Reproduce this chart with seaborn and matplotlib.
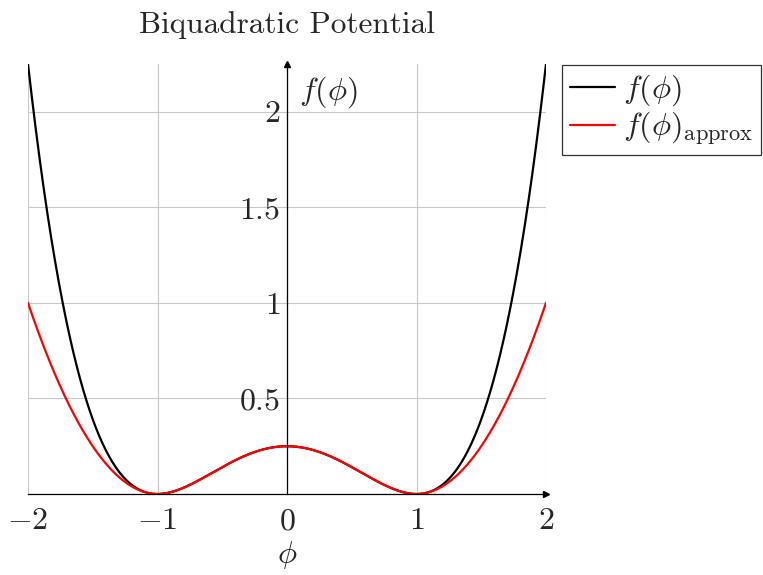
import numpy as np
import pandas as pd
import matplotlib
matplotlib.use("Agg")
import matplotlib.pyplot as plt
import seaborn as sns

# Biquadratic potential f(phi) = (phi^2 - 1)^2 / 4 and its harmonic approximation
phi_min, phi_max = -2.0, 2.0
x_ticks = [-2, -1, 0, 1, 2]
y_ticks = [0.5, 1.0, 1.5, 2.0]
y_tick_labels = ["0.5", "1", "1.5", "2"]
y_max = 2.25
series_names = [r"$f(\phi)$", r"$f(\phi)_{\mathrm{approx}}$"]
series_colors = ["black", "red"]

phi = np.linspace(phi_min, phi_max, 801)
f_exact = (phi ** 2 - 1) ** 2 / 4
# between the minima the exact curve, outside a quadratic about each minimum
f_approx = np.where(np.abs(phi) <= 1, f_exact, (np.abs(phi) - 1) ** 2)

df = pd.DataFrame({
    "phi": np.concatenate([phi, phi]),
    "f": np.concatenate([f_exact, f_approx]),
    "series": [series_names[0]] * len(phi) + [series_names[1]] * len(phi),
})

sns.set_style("white")
plt.rcParams["mathtext.fontset"] = "cm"
plt.rcParams["font.family"] = ["cmr10", "DejaVu Serif"]
plt.rcParams["axes.formatter.use_mathtext"] = True

FS = 23
W, H = 763, 575
fig = plt.figure(figsize=(W / 100, H / 100), dpi=100)
x0, x1 = 28, 546
y0, y1 = 494, 64
ax = fig.add_axes([x0 / W, 1 - y0 / H, (x1 - x0) / W, (y0 - y1) / H])

sns.lineplot(data=df, x="phi", y="f", hue="series", palette=series_colors,
             hue_order=series_names, linewidth=1.6, ax=ax, legend=False)

ax.set_xlim(phi_min, phi_max)
ax.set_ylim(0, y_max)

# axis lines through the origin, with arrow heads
for side in ["top", "right"]:
    ax.spines[side].set_visible(False)
ax.spines["left"].set_position(("data", 0))
ax.spines["bottom"].set_position(("data", 0))
for side in ["left", "bottom"]:
    ax.spines[side].set_color("black")
    ax.spines[side].set_linewidth(0.9)
ax.plot(1, 0, marker=">", color="black", markersize=4.5,
        transform=ax.get_yaxis_transform(), clip_on=False)
ax.plot(0, 1, marker="^", color="black", markersize=4.5,
        transform=ax.get_xaxis_transform(), clip_on=False)

ax.set_xticks(x_ticks)
ax.set_xticklabels([f"${t}$" if t >= 0 else f"$-{abs(t)}$" for t in x_ticks])
ax.set_yticks(y_ticks)
ax.set_yticklabels([f"${t}$" for t in y_tick_labels])
ax.tick_params(axis="both", direction="inout", length=6, width=0.8, color="#666666",
               labelsize=FS)
ax.tick_params(axis="x", pad=7)
ax.tick_params(axis="y", pad=2)
ax.grid(True, color="#c8c8c8", linewidth=0.8)
ax.set_axisbelow(True)
ax.axhline(0, color="#c8c8c8", linewidth=0.8, zorder=0)

ax.set_xlabel(r"$\phi$", fontsize=FS, labelpad=3)
ax.set_ylabel("")
ax.text(0.523, 0.935, r"$f(\phi)$", transform=ax.transAxes, fontsize=FS,
        ha="left", va="center")
ax.set_title("Biquadratic Potential", fontsize=22.5, pad=22)

handles = [plt.Line2D([], [], color=c, linewidth=1.6) for c in series_colors]
leg = fig.legend(handles, series_names, loc="upper left",
                 bbox_to_anchor=(562 / W, 1 - 65 / H), borderaxespad=0,
                 fontsize=FS, frameon=True, fancybox=False, handlelength=1.4,
                 handletextpad=0.25, borderpad=0.25, labelspacing=0.05)
leg.get_frame().set_edgecolor("black")
leg.get_frame().set_linewidth(0.9)

fig.savefig("out.png", dpi=100)
